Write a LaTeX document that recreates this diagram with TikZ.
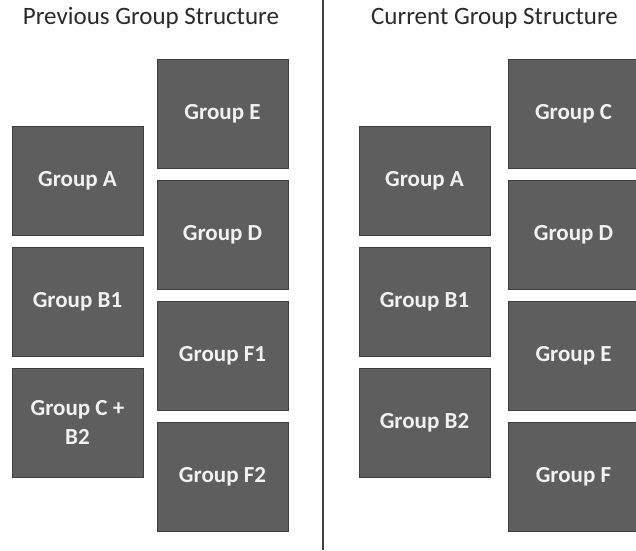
\documentclass[tikz,border=0pt]{standalone}
\usepackage{fontspec}
\setmainfont{Carlito}
\definecolor{boxfill}{HTML}{5E5E5E}
\definecolor{boxedge}{HTML}{3E3E3E}
\definecolor{boxtext}{HTML}{F2F2F2}
\definecolor{titlegray}{HTML}{2A2A2A}
\begin{document}
\begin{tikzpicture}[x=1pt,y=-1pt,
  grp/.style={draw=boxedge, line width=1pt, fill=boxfill, text=boxtext,
    minimum width=131pt, minimum height=109pt, inner sep=0pt,
    align=center, font=\fontsize{23}{29}\selectfont\bfseries},
  heading/.style={text=titlegray, font=\fontsize{25}{28}\selectfont, inner sep=0pt}]
  \useasboundingbox[fill=white] (0,0) rectangle (636,550);

  % divider between the two structures
  \coordinate (divtop) at (323,0);
  \coordinate (divbot) at (323,550);
  \draw[line width=1.3pt, black!75] (divtop) -- (divbot);

  % previous structure
  \node[heading] (prevtitle) at (151,18) {Previous Group Structure};
  \node[grp] (pA)  at (77.5,180.5) {Group A};
  \node[grp] (pB1) at (77.5,301.5) {Group B1};
  \node[grp] (pCB) at (77.5,422.5) {Group C +\\B2};
  \node[grp] (pE)  at (222.5,113.5) {Group E};
  \node[grp] (pD)  at (222.5,234.5) {Group D};
  \node[grp] (pF1) at (222.5,355.5) {Group F1};
  \node[grp] (pF2) at (222.5,476.5) {Group F2};

  % current structure
  \node[heading] (curtitle) at (494.5,18) {Current Group Structure};
  \node[grp] (cA)  at (424.5,180.5) {Group A};
  \node[grp] (cB1) at (424.5,301.5) {Group B1};
  \node[grp] (cB2) at (424.5,422.5) {Group B2};
  \node[grp] (cC)  at (573.5,113.5) {Group C};
  \node[grp] (cD)  at (573.5,234.5) {Group D};
  \node[grp] (cE)  at (573.5,355.5) {Group E};
  \node[grp] (cF)  at (573.5,476.5) {Group F};
\end{tikzpicture}
\end{document}
